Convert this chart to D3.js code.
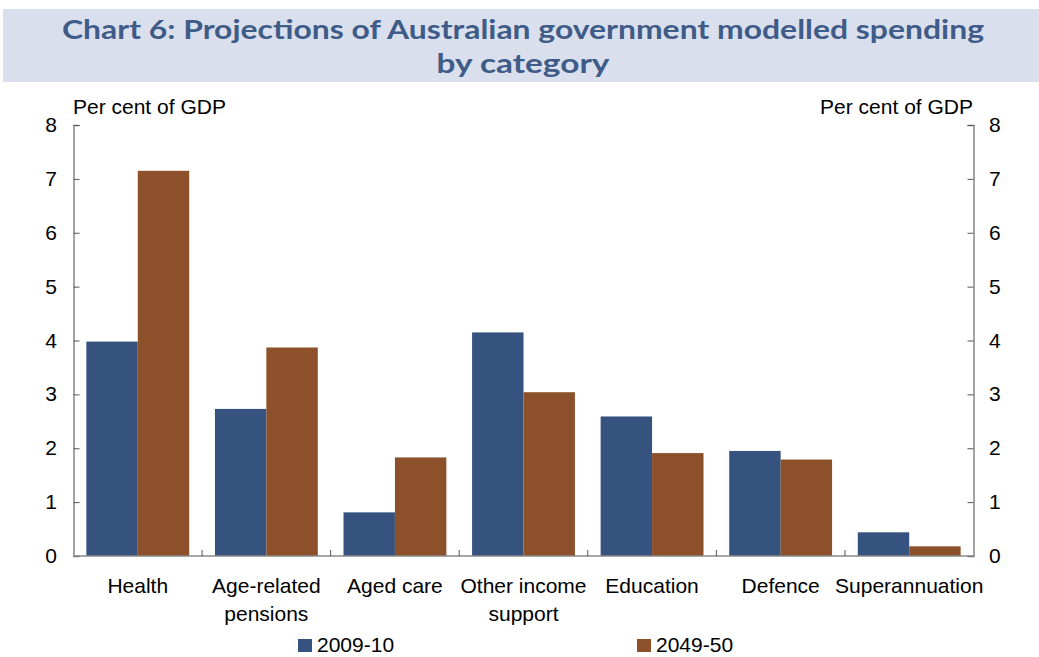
<!DOCTYPE html>
<html>
<head>
<meta charset="utf-8">
<script src="https://cdn.jsdelivr.net/npm/d3@7"></script>
<style>
  body { margin: 0; background: #fff; }
  svg { display: block; }
</style>
</head>
<body>
<svg id="chart" width="1039" height="657"></svg>
<script>
// Spending by category, per cent of GDP
const categories = [
  ["Health"],
  ["Age-related", "pensions"],
  ["Aged care"],
  ["Other income", "support"],
  ["Education"],
  ["Defence"],
  ["Superannuation"]
];
const seriesNames = ["2009-10", "2049-50"];
const values2009 = [3.98, 2.73, 0.81, 4.15, 2.59, 1.95, 0.44];
const values2049 = [7.15, 3.87, 1.83, 3.04, 1.91, 1.79, 0.18];
const yTicks = [0, 1, 2, 3, 4, 5, 6, 7, 8];
const colors = ["#36537f", "#8c512b"];

(function () {
  const svg = d3.select("#chart");
  const plotLeft = 73.5, plotRight = 973.5, plotTop = 125, plotBottom = 556;
  const fontAxis = "'Liberation Sans', Arial, sans-serif";
  const fs = 21;

  // Title band
  svg.append("rect").attr("x", 3).attr("y", 9).attr("width", 1036).attr("height", 73)
    .attr("fill", "#d9dfed");
  const titleLines = [
    { text: "Chart 6: Projections of Australian government modelled spending", width: 922 },
    { text: "by category", width: 173 }
  ];
  svg.selectAll("text.title").data(titleLines).join("text")
    .attr("class", "title")
    .attr("x", 523).attr("y", (d, i) => 38.5 + i * 34)
    .attr("text-anchor", "middle")
    .attr("font-family", "'Lato', 'Open Sans', sans-serif")
    .attr("font-weight", "bold")
    .attr("font-size", 27.5)
    .attr("textLength", d => d.width)
    .attr("lengthAdjust", "spacingAndGlyphs")
    .attr("fill", "#3f5b88")
    .text(d => d.text);

  const x0 = d3.scaleBand().domain(d3.range(categories.length)).range([plotLeft, plotRight])
    .paddingInner(0.2).paddingOuter(0.1);
  const x1 = d3.scaleBand().domain([0, 1]).range([0, x0.bandwidth()]);
  const y = d3.scaleLinear().domain([0, 8]).range([plotBottom, plotTop]);

  // Bars
  const groups = svg.append("g").selectAll("g").data(categories).join("g")
    .attr("transform", (d, i) => `translate(${x0(i)},0)`);
  groups.selectAll("rect").data((d, i) => [values2009[i], values2049[i]]).join("rect")
    .attr("x", (d, j) => x1(j))
    .attr("width", x1.bandwidth())
    .attr("y", d => y(d))
    .attr("height", d => y(0) - y(d))
    .attr("fill", (d, j) => colors[j]);

  // Axes
  const axisColor = "#888";
  const leftAxis = svg.append("g").attr("transform", `translate(${plotLeft},0)`)
    .call(d3.axisRight(y).tickValues(yTicks).tickSize(6).tickFormat(""));
  const rightAxis = svg.append("g").attr("transform", `translate(${plotRight},0)`)
    .call(d3.axisLeft(y).tickValues(yTicks).tickSize(6).tickFormat(""));
  [leftAxis, rightAxis].forEach(a => {
    a.select(".domain").attr("stroke", axisColor).attr("stroke-width", 1.5);
    a.selectAll(".tick line").attr("stroke", "#555");
  });

  // Tick labels
  svg.selectAll("text.yl").data(yTicks).join("text")
    .attr("class", "yl")
    .attr("x", 57).attr("y", d => y(d) + 7)
    .attr("text-anchor", "end")
    .attr("font-family", fontAxis).attr("font-size", fs).attr("fill", "#000")
    .text(d => d);
  svg.selectAll("text.yr").data(yTicks).join("text")
    .attr("class", "yr")
    .attr("x", 989).attr("y", d => y(d) + 7)
    .attr("text-anchor", "start")
    .attr("font-family", fontAxis).attr("font-size", fs).attr("fill", "#000")
    .text(d => d);

  // Axis titles
  svg.append("text").attr("x", 73).attr("y", 114)
    .attr("font-family", fontAxis).attr("font-size", fs).text("Per cent of GDP");
  svg.append("text").attr("x", 973).attr("y", 114).attr("text-anchor", "end")
    .attr("font-family", fontAxis).attr("font-size", fs).text("Per cent of GDP");

  // Category axis
  const xAxisLine = d3.scaleLinear().domain([0, categories.length]).range([plotLeft, plotRight]);
  svg.append("line").attr("x1", plotLeft).attr("x2", plotRight)
    .attr("y1", plotBottom).attr("y2", plotBottom)
    .attr("stroke", axisColor).attr("stroke-width", 1.5);
  svg.selectAll("line.ct").data(d3.range(1, categories.length)).join("line")
    .attr("class", "ct")
    .attr("x1", d => xAxisLine(d)).attr("x2", d => xAxisLine(d))
    .attr("y1", plotBottom).attr("y2", plotBottom - 6)
    .attr("stroke", "#555");

  // Category labels
  const catLabels = svg.append("g").selectAll("text").data(categories).join("text")
    .attr("x", (d, i) => x0(i) + x0.bandwidth() / 2)
    .attr("y", 593)
    .attr("text-anchor", "middle")
    .attr("font-family", fontAxis).attr("font-size", fs).attr("fill", "#000");
  catLabels.selectAll("tspan").data(d => d).join("tspan")
    .attr("x", function () { return d3.select(this.parentNode).attr("x"); })
    .attr("dy", (d, i) => i === 0 ? 0 : 28)
    .text(d => d);

  // Legend
  const legendX = [298, 637];
  const legend = svg.append("g").selectAll("g").data(seriesNames).join("g")
    .attr("transform", (d, i) => `translate(${legendX[i]},639)`);
  legend.append("rect").attr("width", 14).attr("height", 13).attr("fill", (d, i) => colors[i]);
  legend.append("text").attr("x", 19).attr("y", 13)
    .attr("font-family", fontAxis).attr("font-size", fs).text(d => d);
})();
</script>
</body>
</html>
